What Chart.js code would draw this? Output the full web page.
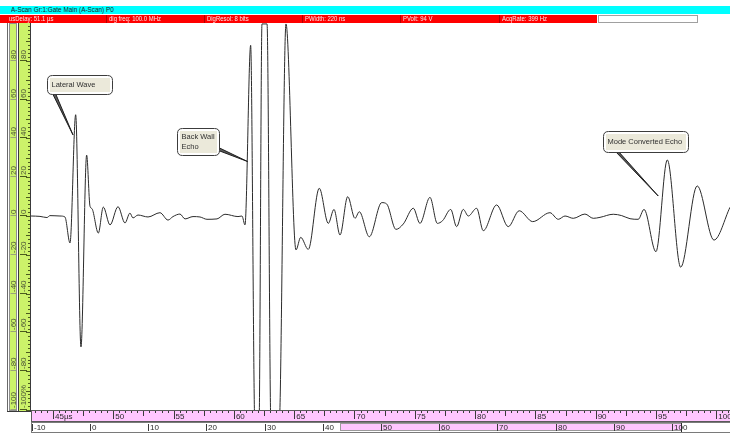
<!DOCTYPE html>
<html>
<head>
<meta charset="utf-8">
<title>A-Scan</title>
<script src="https://cdn.jsdelivr.net/npm/chart.js@4.4.1/dist/chart.umd.min.js"></script>
<style>
  html, body { margin: 0; padding: 0; background: #fff; }
  #wrap { position: relative; width: 730px; height: 434px; overflow: hidden; }
  #scan { position: absolute; left: 0; top: 0; }
  .hdr { position: absolute; font-family: "Liberation Sans", Arial, sans-serif;
         font-size: 7px; line-height: 8px; white-space: nowrap; overflow: hidden; }
  .hdr .txt { display: inline-block; transform: scaleX(0.85); transform-origin: 0 50%; }
  #title { left: 0; top: 6px; width: 730px; height: 8px; background: #00ffff; color: #1e1e1e; font-size: 7.5px; }
  #title .txt { position: absolute; left: 11px; top: 0; }
  #status { left: 0; top: 15px; width: 597px; height: 8px; background: #ff0000; }
  #status .cell { position: absolute; top: 0; height: 8px; color: #ffe6e6; padding-left: 2px;
                  box-sizing: border-box; }
  #status .cell.sep { border-left: 1px solid #b40000; }
  #spare { position: absolute; left: 598px; top: 15px; width: 98px; height: 6px;
           background: #fff; border: 1px solid #a0a0a0; }
</style>
</head>
<body>
<div id="wrap">
  <canvas id="scan" width="730" height="434"></canvas>
  <div id="title" class="hdr"><span class="txt"></span></div>
  <div id="status" class="hdr"></div>
  <div id="spare"></div>
</div>
<script>
// ---- A-scan samples: time of flight (µs) and amplitude (% full screen height) ----
const timeUs = [
  43.18, 43.92, 44.50, 44.75, 45.58, 45.99, 46.41, 46.88, 47.32, 47.79,
  48.07, 48.23, 48.76, 49.17, 49.73, 50.39, 50.97, 51.38, 51.63, 52.05,
  52.88, 53.87, 54.54, 54.95, 55.53, 55.95, 56.61, 57.19, 57.77, 58.60,
  59.26, 60.34, 60.67, 60.92, 61.39, 61.75, 62.08, 62.33, 62.75, 63.08,
  63.74, 64.32, 65.15, 65.54, 66.17, 67.08, 67.83, 68.30, 68.80, 69.44,
  70.04, 70.40, 71.23, 72.26, 72.67, 73.44, 74.05, 74.88, 75.43, 76.26,
  76.87, 77.31, 77.98, 78.47, 79.02, 79.44, 80.13, 80.68, 81.79, 82.75,
  83.66, 84.78, 86.21, 86.90, 87.46, 88.14, 89.11, 89.80, 90.36, 91.46,
  92.16, 92.85, 93.53, 94.01, 95.00, 95.94, 97.05, 98.42, 99.81, 101.14
];
const amplitude = [
  0, -0.2, -0.8, 0.2, 0, -0.5, -13.9, 52.2, -67.5, 31.4,
  5.0, 3.8, -8.8, 4.6, -4.6, 4.8, -3.6, 1.5, -1.0, 0.5,
  -0.5, 1.7, -2.1, -0.3, 1.0, -1.5, -0.3, -0.5, -1.7, -1.5,
  0.9, -0.3, 0, -4.6, 88, -110, -110, 99, 99, -110,
  -110, 99, -17.5, -11.0, -17.2, 14.3, -3.8, 3.4, -9.8, 10.0,
  -1.2, 2.2, -10.7, 6.9, 6.2, -6.9, -4.1, 4.0, -3.8, 9.6,
  -3.8, -2.4, 3.4, -5.5, 3.4, 0, 4.0, -7.6, 5.7, -5.5,
  2.7, -2.9, 1.7, -1.7, 0, -1.2, 1.0, -1.2, -0.7, 0.9,
  0.2, -1.4, -1.7, 3.4, -18.4, 28.9, -26.4, 15.5, -12.4, 4.5
];

// ---- axis ticks ----
const timeTicks = [45, 50, 55, 60, 65, 70, 75, 80, 85, 90, 95, 100];
const timeTickLabels = ['45µs', '50', '55', '60', '65', '70', '75', '80', '85', '90', '95', '100'];
const depthTicks = [-10, 0, 10, 20, 30, 40, 50, 60, 70, 80, 90, 100];
const depthTickLabels = ['-10', '0', '10', '20', '30', '40', '50', '60', '70', '80', '90', '100'];
const depthGate = [43, 101.5];
const ampTicks = [80, 60, 40, 20, 0, -20, -40, -60, -80, -100];
const ampTickLabels = ['80', '60', '40', '20', '0', '-20', '-40', '-60', '-80', '-100'];
const ampPctLabels = ['80', '60', '40', '20', '0', '-20', '-40', '-60', '-80', '-100%'];

// ---- header texts ----
const titleText = 'A-Scan Gr:1:Gate Main (A-Scan) P0';
const statusFields = ['usDelay: 51.1 µs', 'dig freq: 100.0 MHz', 'DigResol: 8 bits',
                      'PWidth: 220 ns', 'PVolt: 94 V', 'AcqRate: 399 Hz'];

// ---- callouts (tip and box corner in data units) ----
const calloutText = [['Lateral Wave'], ['Back Wall', 'Echo'], ['Mode Converted Echo']];
const calloutTip = [[46.66, 41.8], [61.13, 28.1], [95.19, 10.3]];
const calloutBox = [[44.50, 72.7], [55.28, 45.4], [90.60, 43.8]];

// layout of the header cells and callout boxes
const statusCellX = [7, 106, 204, 302, 400, 499, 597];
const calloutSize = [[65, 19], [42, 27], [85, 21]];
const calloutBase = [[[5, 18], [8, 18]], [[41, 19], [41, 22]], [[12, 20], [15, 20]]];

document.querySelector('#title .txt').textContent = titleText;
const statusEl = document.getElementById('status');
statusFields.forEach((txt, i) => {
  const c = document.createElement('div');
  c.className = 'cell' + (i > 0 ? ' sep' : '');
  c.style.left = statusCellX[i] + 'px';
  c.style.width = (statusCellX[i + 1] - statusCellX[i]) + 'px';
  const s = document.createElement('span');
  s.className = 'txt';
  s.textContent = txt;
  c.appendChild(s);
  statusEl.appendChild(c);
});

const FONT = '8px "Liberation Sans", Arial, sans-serif';
const CALLOUT_FONT = '7.5px "Liberation Sans", Arial, sans-serif';

function line(ctx, x1, y1, x2, y2) {
  ctx.beginPath(); ctx.moveTo(x1, y1); ctx.lineTo(x2, y2); ctx.stroke();
}

function roundRect(ctx, x, y, w, h, r) {
  ctx.beginPath();
  ctx.moveTo(x + r, y);
  ctx.lineTo(x + w - r, y); ctx.quadraticCurveTo(x + w, y, x + w, y + r);
  ctx.lineTo(x + w, y + h - r); ctx.quadraticCurveTo(x + w, y + h, x + w - r, y + h);
  ctx.lineTo(x + r, y + h); ctx.quadraticCurveTo(x, y + h, x, y + h - r);
  ctx.lineTo(x, y + r); ctx.quadraticCurveTo(x, y, x + r, y);
  ctx.closePath();
}

const scanFrame = {
  id: 'scanFrame',
  afterDraw(chart) {
    const { ctx, chartArea: a } = chart;
    const x = chart.scales.x, x2 = chart.scales.x2, y = chart.scales.y;
    ctx.save();
    ctx.lineWidth = 1;
    ctx.font = FONT;

    // ---- amplitude rulers on the left ----
    const top = Math.round(a.top) + 1, bot = Math.round(a.bottom) + 1;
    ctx.fillStyle = '#ccf26a';
    ctx.fillRect(9, top, 8, bot - top);
    ctx.fillRect(19, top, 11, bot - top);
    ctx.strokeStyle = '#8f8f8f';
    ctx.strokeRect(9.5, top + 0.5, 7, bot - top - 1);
    ctx.strokeStyle = '#6a6a6a';
    line(ctx, 7.5, top - 1, 7.5, bot + 1);
    ctx.strokeStyle = '#3a3a3a';
    line(ctx, 18.5, top, 18.5, bot);
    line(ctx, 30.5, top, 30.5, bot + 1);
    line(ctx, 7, bot + 0.5, 31, bot + 0.5);

    ctx.strokeStyle = '#4b5a1e';
    for (let v = -100; v <= 100; v += 2) {
      const py = Math.round(y.getPixelForValue(v)) + 0.5;
      const len = v % 10 === 0 ? 4 : 2;
      line(ctx, 30 - len, py, 30, py);
    }
    ctx.fillStyle = '#4d5538';
    ctx.textBaseline = 'middle';
    ctx.textAlign = 'left';
    ampTicks.forEach((v, i) => {
      const py = Math.round(y.getPixelForValue(v));
      ctx.strokeStyle = '#9aa37a';
      line(ctx, 10.5, py - 0.5, 16, py - 0.5);
      ctx.strokeStyle = '#4b5a1e';
      line(ctx, 20, py - 0.5, 27, py - 0.5);
      ctx.save(); ctx.translate(13.5, py - 2); ctx.rotate(-Math.PI / 2);
      ctx.fillText(ampTickLabels[i], 0, 0); ctx.restore();
      ctx.save(); ctx.translate(23.5, py - 2); ctx.rotate(-Math.PI / 2);
      ctx.fillText(ampPctLabels[i], 0, 0); ctx.restore();
    });

    // ---- time ruler (pink) ----
    const r1t = Math.round(a.bottom), r1h = 11;
    ctx.fillStyle = '#ffc6ff';
    ctx.fillRect(a.left, r1t, a.right - a.left, r1h);
    ctx.strokeStyle = '#5a5a5a';
    ctx.strokeRect(a.left + 0.5, r1t + 0.5, a.right - a.left, r1h);
    ctx.strokeStyle = '#3a3a3a';
    for (let k = Math.ceil(x.min * 2); k <= Math.floor(x.max * 2); k++) {
      const px = Math.round(x.getPixelForValue(k / 2)) + 0.5;
      const len = k % 10 === 0 ? 8 : (k % 5 === 0 ? 5 : 2);
      line(ctx, px, r1t + 1, px, r1t + 1 + len);
    }
    ctx.fillStyle = '#2a2a2a';
    timeTicks.forEach((t, i) => {
      const px = x.getPixelForValue(t);
      ctx.fillText(timeTickLabels[i], px + 2, r1t + 6.5);
    });

    // ---- depth ruler ----
    const r2t = r1t + r1h + 1, r2h = 10;
    ctx.fillStyle = '#ffffff';
    ctx.fillRect(a.left, r2t, a.right - a.left, r2h);
    const g0 = Math.round(x2.getPixelForValue(depthGate[0]));
    const g1 = Math.round(x2.getPixelForValue(depthGate[1]));
    ctx.fillStyle = '#ffc6ff';
    ctx.fillRect(g0, r2t + 1, g1 - g0, r2h - 2);
    ctx.strokeStyle = '#7a7a7a';
    ctx.strokeRect(a.left + 0.5, r2t + 0.5, a.right - a.left, r2h);
    ctx.strokeStyle = '#9a9a9a';
    ctx.strokeRect(g0 + 0.5, r2t + 1.5, g1 - g0, r2h - 3);
    ctx.strokeStyle = '#2a2a2a';
    line(ctx, g1 + 0.5, r2t + 1, g1 + 0.5, r2t + r2h);
    ctx.strokeStyle = '#3a3a3a';
    ctx.fillStyle = '#2a2a2a';
    depthTicks.forEach((d, i) => {
      const px = Math.round(x2.getPixelForValue(d)) + 0.5;
      line(ctx, px, r2t + 2, px, r2t + r2h - 1);
      ctx.fillText(depthTickLabels[i], px + 1.5, r2t + 5.5);
    });

    // ---- callouts ----
    ctx.font = CALLOUT_FONT;
    calloutText.forEach((lines, i) => {
      const tx = x.getPixelForValue(calloutTip[i][0]);
      const ty = y.getPixelForValue(calloutTip[i][1]);
      const bx = Math.round(x.getPixelForValue(calloutBox[i][0])) + 0.5;
      const by = Math.round(y.getPixelForValue(calloutBox[i][1])) + 0.5;
      const [w, h] = calloutSize[i];
      const [b0, b1] = calloutBase[i];
      ctx.fillStyle = '#5a5a5a';
      ctx.strokeStyle = '#1e1e1e';
      ctx.beginPath();
      ctx.moveTo(bx + b0[0], by + b0[1]);
      ctx.lineTo(tx, ty);
      ctx.lineTo(bx + b1[0], by + b1[1]);
      ctx.closePath();
      ctx.fill();
      line(ctx, bx + b0[0], by + b0[1], tx, ty);
      line(ctx, bx + b1[0], by + b1[1], tx, ty);
      roundRect(ctx, bx, by, w, h, 5);
      ctx.fillStyle = '#ffffff';
      ctx.fill();
      ctx.strokeStyle = '#3c3c3c';
      ctx.stroke();
      ctx.fillStyle = '#ebe9da';
      ctx.fillRect(bx + 2.5, by + 2.5, w - 5, h - 5);
      ctx.fillStyle = '#303030';
      ctx.textBaseline = 'middle';
      const lh = 10;
      const y0 = by + h / 2 - (lines.length - 1) * lh / 2;
      lines.forEach((s, j) => ctx.fillText(s, bx + 4, y0 + j * lh));
    });
    ctx.restore();
  }
};

new Chart(document.getElementById('scan'), {
  type: 'line',
  data: {
    datasets: [{
      data: timeUs.map((t, i) => ({ x: t, y: amplitude[i] })),
      borderColor: '#2b2b2b',
      borderWidth: 1,
      pointRadius: 0,
      cubicInterpolationMode: 'monotone',
      fill: false
    }]
  },
  options: {
    responsive: false,
    animation: false,
    devicePixelRatio: 1,
    events: [],
    layout: { padding: { left: 31, right: 0, top: 22, bottom: 24 } },
    plugins: { legend: { display: false }, tooltip: { enabled: false }, title: { display: false } },
    scales: {
      x: { type: 'linear', min: 43.176, max: 101.14, display: false },
      x2: { type: 'linear', axis: 'x', position: 'bottom', min: -10.137, max: 109.97, display: false },
      y: { type: 'linear', min: -100, max: 100, display: false }
    }
  },
  plugins: [scanFrame]
});
</script>
</body>
</html>
